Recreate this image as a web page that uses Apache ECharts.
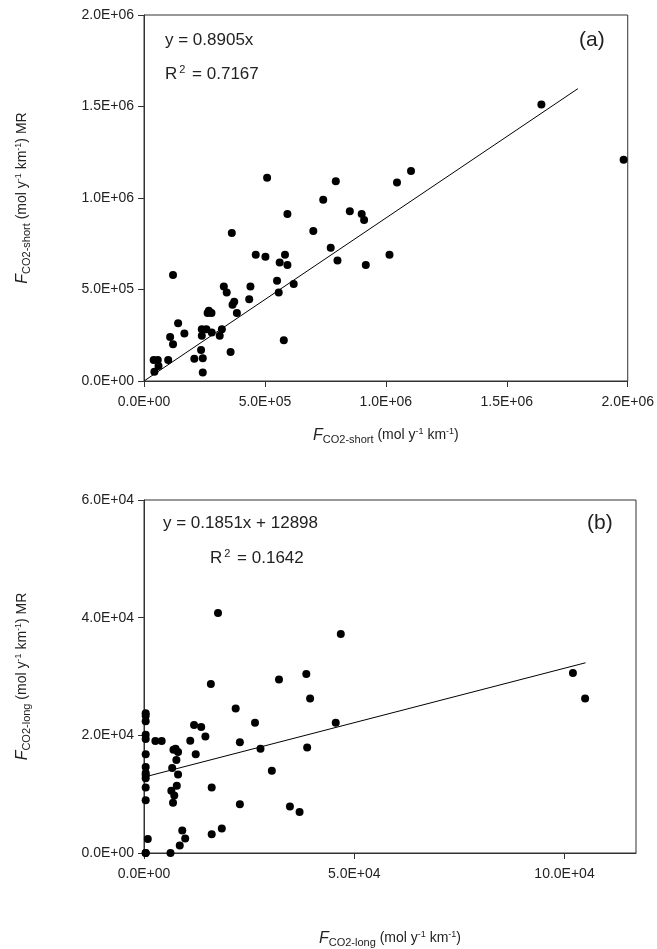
<!DOCTYPE html>
<html>
<head>
<meta charset="utf-8">
<script src="https://cdn.jsdelivr.net/npm/echarts@6/dist/echarts.min.js"></script>
<style>
  html, body { margin: 0; padding: 0; background: #fff; }
  #chart { width: 657px; height: 949px; }
</style>
</head>
<body>
<div id="chart"></div>
<script>
// panel (a): short-term flux vs MR estimate
const shortX = [43000, 40000, 57000, 60000, 100000, 108000, 120000, 120000, 141000, 167000,
  208000, 236000, 243000, 243000, 239000, 239000, 258000, 263000, 268000, 279000,
  280000, 313000, 322000, 330000, 342000, 358000, 363000, 366000, 373000, 384000,
  435000, 440000, 462000, 502000, 509000, 550000, 557000, 561000, 583000, 578000,
  593000, 593000, 619000, 700000, 741000, 772000, 793000, 800000, 851000, 900000,
  910000, 917000, 1015000, 1046000, 1104000, 1643000, 1983000];
const shortY = [51000, 115000, 115000, 82000, 115000, 241000, 201000, 579000, 316000, 259000,
  121000, 170000, 124000, 46000, 283000, 247000, 283000, 371000, 384000, 371000,
  265000, 247000, 283000, 517000, 484000, 159000, 809000, 416000, 433000, 371000,
  447000, 517000, 690000, 679000, 1110000, 548000, 484000, 647000, 690000, 223000,
  634000, 912000, 530000, 819000, 990000, 728000, 1091000, 659000, 927000, 912000,
  880000, 634000, 690000, 1085000, 1147000, 1511000, 1209000];
const shortFit = { slope: 0.8905, intercept: 0, xMax: 1794000 };

// panel (b): long-term flux vs MR estimate
const longX = [400, 400, 400, 400, 400, 400, 400, 400, 400, 400, 400, 400, 900, 400, 400,
  2700, 4200, 6300, 6700, 7000, 7500, 8100, 7700, 8100, 7800, 6500, 7200, 6900, 9100, 9800, 8500,
  11000, 11900, 13600, 14600, 12300, 15900, 16100, 16100, 17600, 18500, 21800, 22800, 22800,
  26400, 27700, 30400, 32100, 34700, 37000, 38600, 38800, 39500, 45600, 46800, 102000, 104900];
const longY = [23770, 23330, 22400, 20100, 19380, 16800, 14600, 13600, 13250, 12700, 11140, 8950, 2360, 0, 0,
  19050, 19050, 0, 14440, 17570, 17730, 17180, 15800, 13340, 11420, 10600, 9770, 8560, 3840, 2470, 1260,
  19100, 21740, 21410, 19820, 16800, 28710, 11140, 3180, 40790, 4170, 24540, 18830, 8290,
  22120, 17730, 14000, 29480, 7900, 6970, 30410, 17950, 26240, 22120, 37220, 30580, 26240];
const longFit = { slope: 0.1851, intercept: 12898, xMax: 105000 };

const pairs = (xs, ys) => xs.map((x, i) => [x, ys[i]]);
const fitLine = f => [[0, f.intercept], [f.xMax, f.intercept + f.slope * f.xMax]];

// exp fixed -> mantissa may be >= 10 (as in 10.0E+04); otherwise normal sci notation
function sci(exp) {
  return v => {
    if (v === 0) return '0.0E+00';
    const e = exp != null ? exp : Math.floor(Math.log10(v) + 1e-9);
    return (v / Math.pow(10, e)).toFixed(1) + 'E+' + String(e).padStart(2, '0');
  };
}

const font = 'Liberation Sans, Arial, sans-serif';
const ink = '#222';
const rich = {
  i: { fontStyle: 'italic', fontSize: 16, color: ink, fontFamily: font },
  s: { fontSize: 11, color: ink, fontFamily: font, padding: [8, 0, 0, 0] },
  t: { fontSize: 14, color: ink, fontFamily: font },
  u: { fontSize: 9, color: ink, fontFamily: font, padding: [0, 0, 8, 0] }
};

function xAxis(gi, max, interval, exp, sub, gap) {
  return {
    gridIndex: gi, type: 'value', min: 0, max: max, interval: interval,
    splitLine: { show: false },
    axisLine: { onZero: false, lineStyle: { color: '#333' } },
    axisTick: { lineStyle: { color: '#333' }, length: 6 },
    axisLabel: { formatter: sci(exp), color: ink, fontFamily: font, fontSize: 14, margin: 14, showMaxLabel: max % interval === 0 },
    name: '{i|F}{s|' + sub + '}{t| (mol y}{u|-1}{t| km}{u|-1}{t|)}',
    nameLocation: 'middle', nameGap: gap,
    nameTextStyle: { rich: rich }
  };
}

function yAxis(gi, max, interval, exp, sub) {
  return {
    gridIndex: gi, type: 'value', min: 0, max: max, interval: interval,
    splitLine: { show: false },
    axisLine: { onZero: false, lineStyle: { color: '#333' } },
    axisTick: { lineStyle: { color: '#333' }, length: 6 },
    axisLabel: { formatter: sci(exp), color: ink, fontFamily: font, fontSize: 14, margin: 10 },
    name: '{i|F}{s|' + sub + '}{t| (mol y}{u|-1}{t| km}{u|-1}{t|) MR}',
    nameLocation: 'middle', nameGap: 112, nameRotate: 90,
    nameTextStyle: { rich: rich }
  };
}

const chart = echarts.init(document.getElementById('chart'));
const txt = (left, top, text, size) => ({
  type: 'text', left: left, top: top,
  style: { text: text, fontSize: size, fontFamily: font, fill: ink }
});
const r2 = (left, top, val) => ({
  type: 'text', left: left, top: top,
  style: { text: '{t|R}{u|2}{t| = ' + val + '}',
    rich: { t: { fontSize: 17, fontFamily: font, fill: ink }, u: { fontSize: 11, fontFamily: font, fill: ink, padding: [0, 2, 10, 2] } } }
});

chart.setOption({
  animation: false,
  backgroundColor: '#fff',
  grid: [
    { left: 144, top: 15, width: 488, height: 366, show: true, borderColor: '#333', borderWidth: 1 },
    { left: 144, top: 500, width: 492, height: 364, show: true, borderColor: '#333', borderWidth: 1 }
  ],
  xAxis: [
    xAxis(0, 2000000, 500000, null, 'CO2-short', 45),
    xAxis(1, 117000, 50000, 4, 'CO2-long', 76)
  ],
  yAxis: [
    yAxis(0, 2000000, 500000, null, 'CO2-short'),
    yAxis(1, 60000, 20000, 4, 'CO2-long')
  ],
  series: [
    { type: 'scatter', xAxisIndex: 0, yAxisIndex: 0, data: pairs(shortX, shortY),
      symbolSize: 8, itemStyle: { color: '#000', opacity: 1 } },
    { type: 'line', xAxisIndex: 0, yAxisIndex: 0, data: fitLine(shortFit), showSymbol: false,
      lineStyle: { color: '#000', width: 1 } },
    { type: 'scatter', xAxisIndex: 1, yAxisIndex: 1, data: pairs(longX, longY),
      symbolSize: 8, itemStyle: { color: '#000', opacity: 1 } },
    { type: 'line', xAxisIndex: 1, yAxisIndex: 1, data: fitLine(longFit), showSymbol: false,
      lineStyle: { color: '#000', width: 1 } }
  ],
  graphic: [
    txt(165, 32, 'y = 0.8905x', 17),
    r2(165, 64, '0.7167'),
    txt(579, 30, '(a)', 21),
    txt(163, 515, 'y = 0.1851x + 12898', 17),
    r2(210, 548, '0.1642'),
    txt(587, 513, '(b)', 21)
  ]
});
</script>
</body>
</html>
